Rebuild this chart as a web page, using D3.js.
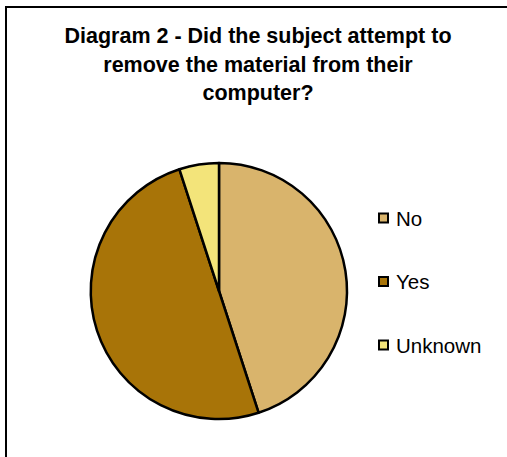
<!DOCTYPE html>
<html>
<head>
<meta charset="utf-8">
<script src="https://cdn.jsdelivr.net/npm/d3@7"></script>
<style>
  html, body { margin: 0; padding: 0; background: #fff; }
  svg { display: block; }
</style>
</head>
<body>
<div id="chart"></div>
<script>
const categories = ["No", "Yes", "Unknown"];
const values = [45, 50, 5];
const colors = ["#d9b46c", "#a87408", "#f3e47a"];
const titleLines = ["Diagram 2 - Did the subject attempt to", "remove the material from their", "computer?"];

const W = 507, H = 457;
const svg = d3.select("#chart").append("svg").attr("width", W).attr("height", H);

svg.append("rect").attr("width", W).attr("height", H).attr("fill", "#fff");
// chart frame (extends beyond the visible area on right and bottom)
svg.append("rect")
  .attr("x", 6).attr("y", 7).attr("width", 520).attr("height", 480)
  .attr("fill", "none").attr("stroke", "#000").attr("stroke-width", 2);

// title
const title = svg.append("text")
  .attr("text-anchor", "middle")
  .attr("font-family", "Liberation Sans, Arial, sans-serif")
  .attr("font-weight", "bold")
  .attr("font-size", 21.5)
  .attr("fill", "#000");
titleLines.forEach((t, i) => {
  title.append("tspan").attr("x", 258).attr("y", 43 + i * 28.5).text(t);
});

// pie
const cx = 219, cy = 291, r = 128;
const pie = d3.pie().sort(null).value(d => d)(values);
const arc = d3.arc().innerRadius(0).outerRadius(r);
const color = d3.scaleOrdinal().domain(categories).range(colors);

const g = svg.append("g").attr("transform", `translate(${cx},${cy})`);
g.selectAll("path").data(pie).enter().append("path")
  .attr("d", arc)
  .attr("fill", (d, i) => color(categories[i]))
  .attr("stroke", "#000")
  .attr("stroke-width", 2.5)
  .attr("stroke-linejoin", "round");

// legend
const legend = svg.append("g");
const rowY = d3.scalePoint().domain(categories).range([218, 345]);
const items = legend.selectAll("g").data(categories).enter().append("g")
  .attr("transform", d => `translate(0,${rowY(d)})`);
items.append("rect")
  .attr("x", 379).attr("y", -4.5).attr("width", 9).attr("height", 9)
  .attr("fill", d => color(d))
  .attr("stroke", "#000").attr("stroke-width", 2);
items.append("text")
  .attr("x", 396).attr("y", 7.5)
  .attr("font-family", "Liberation Sans, Arial, sans-serif")
  .attr("font-size", 20.5)
  .attr("fill", "#000")
  .text(d => d);
</script>
</body>
</html>
